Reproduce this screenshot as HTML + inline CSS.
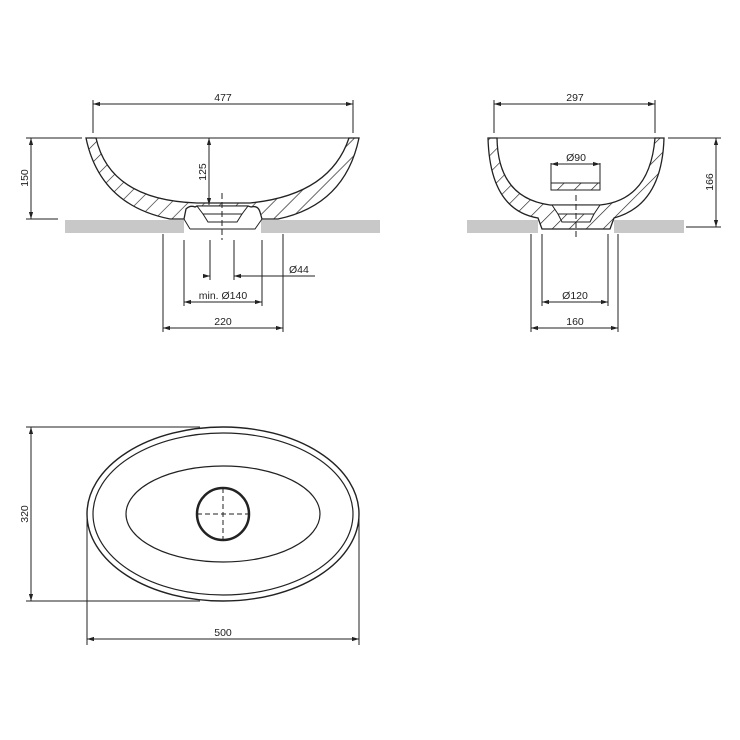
<!DOCTYPE html>
<html><head><meta charset="utf-8"><style>
html,body{margin:0;padding:0;background:#fff}
svg{display:block}
text{font-family:"Liberation Sans",sans-serif;font-size:10.5px;fill:#222}
</style></head><body>
<svg width="740" height="740" viewBox="0 0 740 740" xmlns="http://www.w3.org/2000/svg">
<defs>
<marker id="a" viewBox="0 0 10 10" refX="10" refY="5" markerWidth="7" markerHeight="7" orient="auto-start-reverse"><path d="M0,2 L10,5 L0,8 z" fill="#222"/></marker>
<pattern id="h" width="12" height="12" patternUnits="userSpaceOnUse" patternTransform="rotate(45)"><line x1="0" y1="0" x2="0" y2="12" stroke="#222" stroke-width="1.3"/></pattern>
</defs>
<g stroke="#222" stroke-width="1" fill="none">
<rect x="65" y="220" width="119" height="13" fill="#c8c8c8" stroke="none"/>
<rect x="261" y="220" width="119" height="13" fill="#c8c8c8" stroke="none"/>
<path d="M86,138 L359,138" />
<path d="M86,138 Q100,205 170,219 L184,219 L186,209 Q190,205 195,207 L197,206 L248,206 L251,207 Q258,205 260,212 L262,219 L278,219 Q345,205 359,138 L349,138 Q330,195 250,203 L197,203 Q110,200 96,138 Z" fill="url(#h)" stroke-width="1.3"/>
<path d="M197,206 L248,206 L242,214 L203,214 Z" fill="#fff"/>
<path d="M190,229 L255,229 L262,219 M184,219 L190,229" />
<path d="M203,214 L208,222 L237,222 L242,214" />
<line x1="222" y1="193" x2="222" y2="240" stroke-dasharray="6,3"/>
<line x1="93" y1="100" x2="93" y2="133"/><line x1="353" y1="100" x2="353" y2="133"/>
<line x1="93" y1="104" x2="353" y2="104" marker-start="url(#a)" marker-end="url(#a)"/>
<line x1="26" y1="138" x2="82" y2="138"/><line x1="26" y1="219" x2="58" y2="219"/>
<line x1="31" y1="138" x2="31" y2="219" marker-start="url(#a)" marker-end="url(#a)"/>
<line x1="209" y1="138" x2="209" y2="205" marker-start="url(#a)" marker-end="url(#a)"/>
<line x1="163" y1="234" x2="163" y2="332"/><line x1="283" y1="234" x2="283" y2="332"/>
<line x1="184" y1="240" x2="184" y2="306"/><line x1="262" y1="240" x2="262" y2="306"/>
<line x1="210" y1="240" x2="210" y2="280"/><line x1="234" y1="240" x2="234" y2="280"/>
<line x1="203" y1="276" x2="210" y2="276" marker-end="url(#a)"/>
<line x1="234" y1="276" x2="315" y2="276" marker-start="url(#a)"/>
<line x1="184" y1="302" x2="262" y2="302" marker-start="url(#a)" marker-end="url(#a)"/>
<line x1="163" y1="328" x2="283" y2="328" marker-start="url(#a)" marker-end="url(#a)"/>
<rect x="467" y="220" width="71" height="13" fill="#c8c8c8" stroke="none"/>
<rect x="614" y="220" width="70" height="13" fill="#c8c8c8" stroke="none"/>
<path d="M488,138 L664,138"/>
<path d="M488,138 Q490,210 538,218 L542,229 L610,229 L614,218 Q662,205 664,138 L655,138 Q650,200 600,205 L550,205 Q498,198 497,138 Z" fill="url(#h)" stroke-width="1.3"/>
<path d="M552,205 L600,205 L594,214 L558,214 Z" fill="#fff"/>
<path d="M558,214 L562,222 L590,222 L594,214"/>
<line x1="576" y1="195" x2="576" y2="240" stroke-dasharray="6,3"/>
<rect x="551" y="183" width="49" height="7" fill="url(#h)"/>
<line x1="551" y1="163" x2="551" y2="183"/><line x1="600" y1="163" x2="600" y2="183"/>
<line x1="551" y1="164" x2="600" y2="164" marker-start="url(#a)" marker-end="url(#a)"/>
<line x1="494" y1="100" x2="494" y2="133"/><line x1="655" y1="100" x2="655" y2="133"/>
<line x1="494" y1="104" x2="655" y2="104" marker-start="url(#a)" marker-end="url(#a)"/>
<line x1="668" y1="138" x2="721" y2="138"/><line x1="686" y1="227" x2="721" y2="227"/>
<line x1="716" y1="138" x2="716" y2="227" marker-start="url(#a)" marker-end="url(#a)"/>
<line x1="542" y1="234" x2="542" y2="306"/><line x1="608" y1="234" x2="608" y2="306"/>
<line x1="542" y1="302" x2="608" y2="302" marker-start="url(#a)" marker-end="url(#a)"/>
<line x1="531" y1="234" x2="531" y2="332"/><line x1="618" y1="234" x2="618" y2="332"/>
<line x1="531" y1="328" x2="618" y2="328" marker-start="url(#a)" marker-end="url(#a)"/>
<ellipse cx="223" cy="514" rx="136" ry="87" stroke-width="1.4"/>
<ellipse cx="223" cy="514" rx="130" ry="81" stroke-width="1.2"/>
<ellipse cx="223" cy="514" rx="97" ry="48" stroke-width="1.2"/>
<circle cx="223" cy="514" r="26" stroke-width="2.5"/>
<line x1="197" y1="514" x2="249" y2="514" stroke-dasharray="5,3"/>
<line x1="223" y1="488" x2="223" y2="540" stroke-dasharray="5,3"/>
<line x1="26" y1="427" x2="200" y2="427"/><line x1="26" y1="601" x2="200" y2="601"/>
<line x1="31" y1="427" x2="31" y2="601" marker-start="url(#a)" marker-end="url(#a)"/>
<line x1="87" y1="514" x2="87" y2="645"/><line x1="359" y1="514" x2="359" y2="645"/>
<line x1="87" y1="639" x2="359" y2="639" marker-start="url(#a)" marker-end="url(#a)"/>
</g>
<text x="223" y="101" text-anchor="middle">477</text>
<text transform="translate(28,178) rotate(-90)" text-anchor="middle">150</text>
<text transform="translate(206,172) rotate(-90)" text-anchor="middle">125</text>
<text x="289" y="273">Ø44</text>
<text x="223" y="299" text-anchor="middle">min. Ø140</text>
<text x="223" y="325" text-anchor="middle">220</text>
<text x="575" y="101" text-anchor="middle">297</text>
<text x="576" y="161" text-anchor="middle">Ø90</text>
<text transform="translate(713,182) rotate(-90)" text-anchor="middle">166</text>
<text x="575" y="299" text-anchor="middle">Ø120</text>
<text x="575" y="325" text-anchor="middle">160</text>
<text transform="translate(28,514) rotate(-90)" text-anchor="middle">320</text>
<text x="223" y="636" text-anchor="middle">500</text>
</svg>
</body></html>
